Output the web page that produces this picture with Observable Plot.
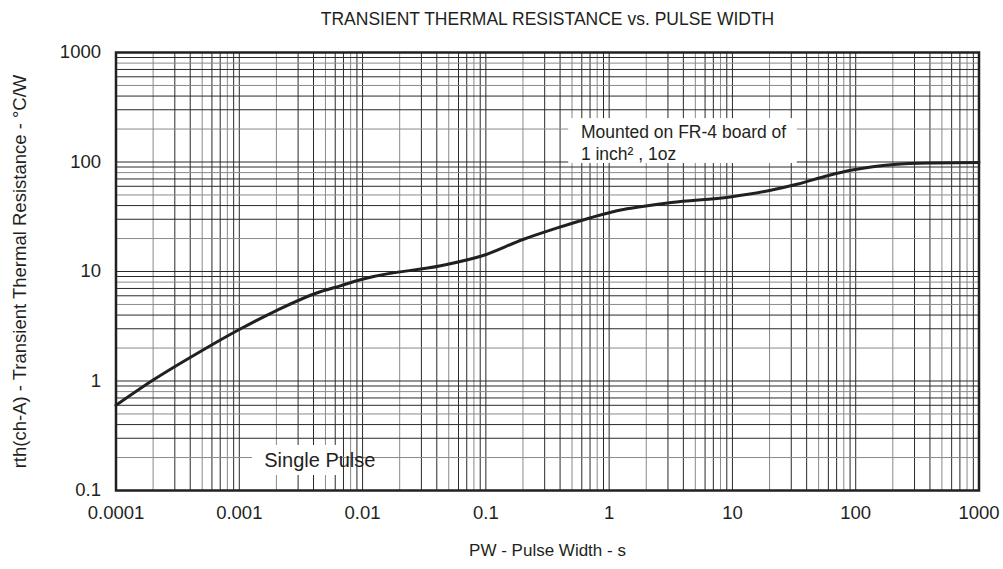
<!DOCTYPE html>
<html>
<head>
<meta charset="utf-8">
<script src="https://cdn.jsdelivr.net/npm/d3@7"></script>
<script src="https://cdn.jsdelivr.net/npm/@observablehq/plot@0.6"></script>
<style>
  html, body { margin: 0; padding: 0; background: #fff; }
  #chart svg { display: block; }
</style>
</head>
<body>
<div id="chart"></div>
<script>
// Pulse width (s) and transient thermal resistance (°C/W)
const pulseWidth = [0.0001, 0.0002, 0.0005, 0.001, 0.002, 0.0043, 0.0066, 0.0096, 0.0123, 0.043, 0.095, 0.2, 0.38, 0.71, 1.24, 1.8, 3.2, 9.6, 20, 34, 59, 96, 204, 400, 1000];
const thermalRes = [0.6, 1.02, 1.9, 2.95, 4.4, 6.4, 7.4, 8.4, 9.0, 11.3, 14, 19.6, 25, 31, 36.5, 39, 42.6, 48, 55, 63, 75, 85, 95, 98, 99];

const xTicks = [0.0001, 0.001, 0.01, 0.1, 1, 10, 100, 1000];
const xTickLabels = ["0.0001", "0.001", "0.01", "0.1", "1", "10", "100", "1000"];
const yTicks = [0.1, 1, 10, 100, 1000];
const yTickLabels = ["0.1", "1", "10", "100", "1000"];

const titleText = "TRANSIENT THERMAL RESISTANCE vs. PULSE WIDTH";
const xLabelText = "PW - Pulse Width - s";
const yLabelText = "rth(ch-A) - Transient Thermal Resistance - \u00B0C/W";
const noteText = "Mounted on FR-4 board of\n1 inch\u00B2 , 1oz";
const pulseText = "Single Pulse";

const data = pulseWidth.map((x, i) => ({x, y: thermalRes[i]}));
const mult = [1, 2, 3, 4, 5, 6, 7, 8, 9];
const xGrid = xTicks.slice(0, -1).flatMap(d => mult.map(m => d * m)).concat([1000]);
const yGrid = yTicks.slice(0, -1).flatMap(d => mult.map(m => d * m)).concat([1000]);
const xLab = new Map(xTicks.map((d, i) => [d, xTickLabels[i]]));
const yLab = new Map(yTicks.map((d, i) => [d, yTickLabels[i]]));

const ink = "#231f20";
const font = "'Liberation Sans', Arial, Helvetica, sans-serif";

const chart = Plot.plot({
  width: 1003,
  height: 569,
  marginLeft: 115.5,
  marginRight: 24.5,
  marginTop: 52,
  marginBottom: 79,
  style: {fontFamily: font, background: "#fff", color: ink},
  x: {type: "log", domain: [1e-4, 1e3]},
  y: {type: "log", domain: [0.1, 1000]},
  marks: [
    Plot.ruleX(xGrid, {stroke: (d, i) => (i % 3 === 1 ? "#8a8a8a" : "#2a2a2a"), strokeWidth: 1}),
    Plot.ruleY(yGrid, {stroke: (d, i) => (i % 3 === 1 ? "#8a8a8a" : "#2a2a2a"), strokeWidth: 1}),
    Plot.rect([0], {x1: 0.47, x2: 33.6, y1: 97, y2: 249, fill: "#fff"}),
    Plot.rect([0], {x1: 0.00128, x2: 0.0063, y1: 0.137, y2: 0.258, fill: "#fff"}),
    Plot.line(data, {x: "x", y: "y", curve: "monotone-x", stroke: ink, strokeWidth: 3}),
    Plot.frame({stroke: ink, strokeWidth: 2.5}),
    Plot.axisX({ticks: xTicks, tickFormat: d => xLab.get(d), tickSize: 0, tickPadding: 15, fontSize: 18.5, label: null}),
    Plot.axisY({ticks: yTicks, tickFormat: d => yLab.get(d), tickSize: 0, tickPadding: 15, fontSize: 18.5, label: null}),
    Plot.text([noteText], {x: 0.59, y: 152, text: d => d, textAnchor: "start", lineAnchor: "middle", lineHeight: 1.22, fontSize: 17.5, fill: ink}),
    Plot.text([pulseText], {x: 0.0045, y: 0.188, text: d => d, fontSize: 20, fill: ink}),
    Plot.text([titleText], {frameAnchor: "top", dy: -33, lineAnchor: "middle", text: d => d, fontSize: 17.5, fill: ink}),
    Plot.text([xLabelText], {frameAnchor: "bottom", dy: 60, lineAnchor: "middle", text: d => d, fontSize: 17, fill: ink}),
    Plot.text([yLabelText], {frameAnchor: "left", dx: -96, rotate: -90, textAnchor: "middle", text: d => d, fontSize: 18.5, fill: ink})
  ]
});
document.getElementById("chart").appendChild(chart);
</script>
</body>
</html>
